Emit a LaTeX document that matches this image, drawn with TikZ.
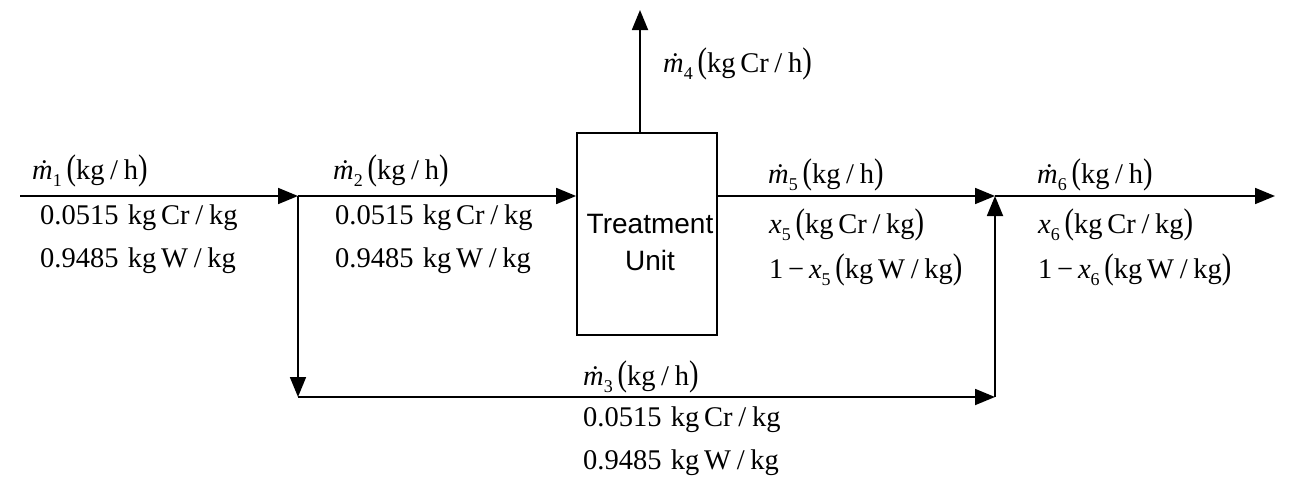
\documentclass[tikz,border=0pt]{standalone}
\usepackage{fontspec}
\usepackage{graphicx}
\setmainfont{Liberation Serif}
\newfontfamily\boxfont{Liberation Sans}
\usetikzlibrary{arrows.meta}
\newcommand{\subn}[1]{\raisebox{-0.28em}{\fontsize{18}{18}\selectfont #1}}
\newcommand{\md}[1]{{\itshape\.{m}}\subn{#1}}
\newcommand{\xs}[1]{{\itshape x}\subn{#1}}
\newcommand{\lp}{\,\scalebox{1}[1.25]{(}}
\newcommand{\rp}{\scalebox{1}[1.25]{)}}
\newcommand{\slsh}{\hspace{0.2em}/\hspace{0.2em}}
\newcommand{\nsp}{\hspace{0.33em}}
\begin{document}
\begin{tikzpicture}[x=1pt,y=-1pt,
  flow/.style={draw, line width=1.8pt, -{Triangle[length=20pt,width=16pt]}},
  lab/.style={anchor=base west, inner sep=0pt, font=\fontsize{28.5}{32}\selectfont},
  unit/.style={draw, line width=1.8pt, minimum width=140pt, minimum height=202pt, inner sep=0pt},
  unittext/.style={align=center, inner sep=0pt, font=\boxfont\fontsize{28}{37}\selectfont}]
\useasboundingbox (0,0) rectangle (1294,490);
% points
\coordinate (in) at (20,196);
\coordinate (s1) at (298,196);
\coordinate (top) at (640,10);
\coordinate (j1) at (995,196);
\coordinate (out) at (1275,196);
\coordinate (s2) at (298,397);
\coordinate (j2) at (995,397);
\node[unit] (box) at (647,234) {};
\node[unittext] (boxlabel) at (650,243) {Treatment\\Unit};
% connectors
\draw[flow] (in) -- (s1);
\draw[flow] (s1) -- (s1 -| box.west);
\draw[flow] (box.north -| top) -- (top);
\draw[flow] (box.east |- j1) -- (j1);
\draw[flow] (j1) -- (out);
\draw[flow] (s1) -- (s2);
\draw[flow] (s2) -- (j2);
\draw[flow] (j2) -- (j1);
% labels stream 1
\node[lab] (l1a) at (32,179) {\md{1}\lp kg\slsh h\rp};
\node[lab] (l1b) at (40,224) {0.0515\nsp kg\,Cr\slsh kg};
\node[lab] (l1c) at (40,267) {0.9485\nsp kg\,W\slsh kg};
% stream 2
\node[lab] (l2a) at (333,179) {\md{2}\lp kg\slsh h\rp};
\node[lab] (l2b) at (335,224) {0.0515\nsp kg\,Cr\slsh kg};
\node[lab] (l2c) at (335,267) {0.9485\nsp kg\,W\slsh kg};
% stream 4
\node[lab] (l4a) at (663,72) {\md{4}\lp kg\,Cr\slsh h\rp};
% stream 5
\node[lab] (l5a) at (768,183) {\md{5}\lp kg\slsh h\rp};
\node[lab] (l5b) at (769,233) {\xs{5}\lp kg\,Cr\slsh kg\rp};
\node[lab] (l5c) at (769,278) {1\,−\,\xs{5}\lp kg\,W\slsh kg\rp};
% stream 6
\node[lab] (l6a) at (1037,183) {\md{6}\lp kg\slsh h\rp};
\node[lab] (l6b) at (1038,233) {\xs{6}\lp kg\,Cr\slsh kg\rp};
\node[lab] (l6c) at (1038,278) {1\,−\,\xs{6}\lp kg\,W\slsh kg\rp};
% stream 3
\node[lab] (l3a) at (583,385) {\md{3}\lp kg\slsh h\rp};
\node[lab] (l3b) at (583,426) {0.0515\nsp kg\,Cr\slsh kg};
\node[lab] (l3c) at (583,469) {0.9485\nsp kg\,W\slsh kg};
\end{tikzpicture}
\end{document}
